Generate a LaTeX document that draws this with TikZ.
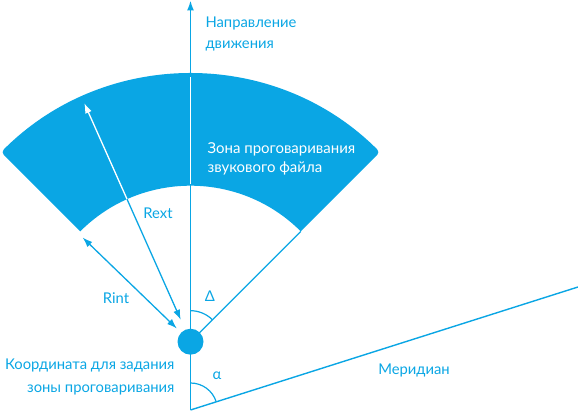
\documentclass[tikz,border=0pt]{standalone}
\usepackage{fontspec}
\setmainfont{Lato}
\usetikzlibrary{arrows.meta,calc}
\definecolor{mblue}{RGB}{10,166,228}
\begin{document}
\begin{tikzpicture}[x=1pt,y=1pt,
  ln/.style={draw=mblue,line width=1.6pt},
  tipend/.style={-{Latex[length=10pt,width=7pt]}},
  tipboth/.style={{Latex[length=10pt,width=7pt]}-{Latex[length=10pt,width=7pt]}},
  lbl/.style={text=mblue,font=\fontsize{14.8}{21}\selectfont},
  zonetxt/.style={text=white,font=\fontsize{15}{19}\selectfont},
  zone/.style={fill=mblue}]
\useasboundingbox (0,0) rectangle (578,412);
\coordinate (C) at (190.5,70.3);
\coordinate (B) at (190.5,2);
\coordinate (T) at (190.5,411.5);
\coordinate (M) at (578,125);
% sector corners
\coordinate (il) at ($(C)+(135:156)$);
\coordinate (ol) at ($(C)+(135:268)$);
\coordinate (oR) at ($(C)+(45:268)$);
\coordinate (iR) at ($(C)+(45:156)$);
% axis
\draw[ln,tipend] (B) -- (T);
% zone
\fill[zone,rounded corners=4pt] (il) -- (ol) arc[start angle=135,end angle=45,radius=268] [sharp corners] -- (iR) arc[start angle=45,end angle=135,radius=156] -- cycle;
\coordinate (a1) at ($(C)+(90:158)$);
\coordinate (a2) at ($(C)+(90:265)$);
\draw[white,line width=1.2pt] (a1) -- (a2);
% delta line
\draw[ln,line width=1.3pt] (C) -- (iR);
% meridian
\draw[ln,line width=1.4pt] (B) -- (M);
% angle arcs
\coordinate (d1) at ($(C)+(90:31)$);
\draw[ln,line width=1.2pt] (d1) arc[start angle=90,end angle=45,radius=31];
\coordinate (al1) at ($(B)+(90:27)$);
\draw[ln,line width=1.2pt] (al1) arc[start angle=90,end angle=17.6,radius=27];
% Rext
\coordinate (re0) at ($(C)+(114:24)$);
\coordinate (re1) at ($(C)+(114:156)$);
\coordinate (re2) at ($(C)+(114:261)$);
\draw[mblue,line width=1.3pt,{Latex[length=10pt,width=7pt]}-] (re0) -- (re1);
\draw[white,line width=1.3pt,tipend] (re1) -- (re2);
% Rint
\coordinate (ri0) at ($(C)+(136:19)$);
\coordinate (ri1) at ($(C)+(136:150)$);
\draw[mblue,line width=1.3pt,tipboth] (ri0) -- (ri1);
% dot
\node[circle,fill=mblue,minimum size=26pt,inner sep=0pt] (dot) at (C) {};
% labels
\node[lbl,anchor=west,align=left] (dir) at (202,378.5) {Направление\\движения};
\node[zonetxt,anchor=west,align=left] (zl) at (204,253.2) {Зона проговаривания\\звукового файла};
\node[lbl] (rext) at (158,199) {Rext};
\node[lbl] (rint) at (116,114) {Rint};
\node[lbl] (dl) at (210,116) {Δ};
\node[lbl] (al) at (217,36) {α};
\node[lbl] (mer) at (414,42) {Меридиан};
\node[lbl,anchor=east,align=right,font=\fontsize{14.8}{22.5}\selectfont] (coord) at (178,35) {Координата для задания\\зоны проговаривания};
\end{tikzpicture}
\end{document}
